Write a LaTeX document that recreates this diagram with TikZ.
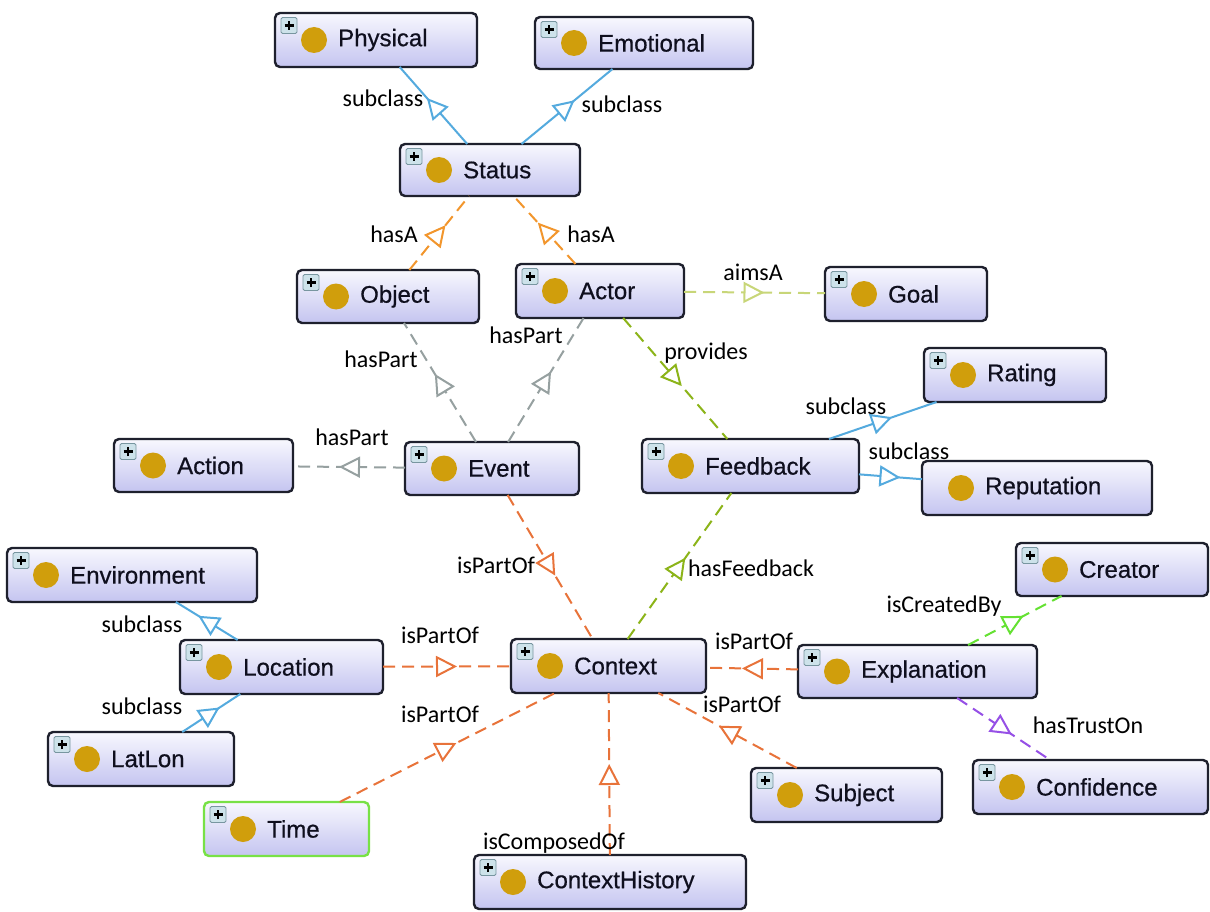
\documentclass[tikz,border=0pt]{standalone}
\usepackage{fontspec}
\setmainfont{Liberation Sans}
\newfontfamily\boxfont[FakeBold=0.6]{Liberation Sans}
\newfontfamily\lblfont{Carlito}
\usetikzlibrary{arrows.meta,decorations.markings}

\definecolor{boxtop}{RGB}{248,248,254}
\definecolor{boxbot}{RGB}{196,196,240}
\definecolor{boxline}{RGB}{30,32,45}
\definecolor{clsdot}{RGB}{208,158,12}
\definecolor{icofill}{RGB}{205,226,234}
\definecolor{icoline}{RGB}{120,150,160}
\definecolor{subcl}{RGB}{84,170,222}
\definecolor{hasa}{RGB}{242,150,45}
\definecolor{haspart}{RGB}{150,160,160}
\definecolor{aims}{RGB}{200,214,120}
\definecolor{oliveg}{RGB}{140,180,25}
\definecolor{partof}{RGB}{232,115,58}
\definecolor{created}{RGB}{100,225,50}
\definecolor{trust}{RGB}{150,80,230}
\definecolor{timeline}{RGB}{120,225,70}
\definecolor{txt}{RGB}{15,15,30}

\tikzset{
  clsbox/.style={draw=boxline, line width=2.4pt, rounded corners=5pt,
    top color=boxtop, bottom color=boxbot, inner sep=0pt, outer sep=0pt},
  clstext/.style={font=\boxfont\fontsize{24}{24}\selectfont, text=txt, inner sep=0pt, anchor=west},
  lbl/.style={font=\lblfont\fontsize{24}{24}\selectfont, text=black, inner sep=0pt, anchor=base},
  rel/.style={draw=#1, line width=2pt, postaction={decorate},
    decoration={markings, mark=at position 0.5 with {\pgfsetdash{}{0pt}%
      \arrow[xshift=10pt]{Triangle[open, fill=white, length=21pt, width=21pt, line width=2pt]}}}},
  solidrel/.style={rel=#1},
  dashrel/.style={rel=#1, dash pattern=on 12pt off 7pt},
}

% class box: [extra style]{name}{left}{top}{right}{bottom}{label}
\newcommand\owlclass[7][]{%
  \node[clsbox,#1, minimum width={#5-#3}, minimum height={#6-#4}] (#2) at ({(#3+#5)/2},{(#4+#6)/2}) {};
  \fill[clsdot] ([xshift=39pt]#2.west) circle (13pt);
  \node[clstext] (#2-name) at ([xshift=63pt]#2.west) {#7};
}
% expand icon in the upper left corner of a class box
\newcommand\plusicon[1]{%
  \path ([xshift=14pt,yshift=-12.5pt]#1.north west) coordinate (#1-ico);
  \draw[icoline, fill=icofill, line width=0.8pt, rounded corners=1.5pt]
    ([shift={(-8pt,-8pt)}]#1-ico) rectangle ([shift={(8pt,8pt)}]#1-ico);
  \draw[black, line width=2.2pt] ([xshift=-4.5pt]#1-ico) -- ([xshift=4.5pt]#1-ico)
    ([yshift=-4.5pt]#1-ico) -- ([yshift=4.5pt]#1-ico);
}

\begin{document}
\begin{tikzpicture}[x=1pt,y=-1pt]
\fill[white] (0,0) rectangle (1210,912);
\useasboundingbox (0,0) rectangle (1210,912);

% classes
\owlclass{Physical}{275}{13}{477}{67}{Physical}
\owlclass{Emotional}{535}{17}{753}{69}{Emotional}
\owlclass{Status}{400}{144}{580}{196}{Status}
\owlclass{Object}{297}{270}{479}{323}{Object}
\owlclass{Actor}{516}{264}{684}{318}{Actor}
\owlclass{Goal}{825}{267}{987}{321}{Goal}
\owlclass{Rating}{924}{348}{1106}{402}{Rating}
\owlclass{Action}{114}{439}{293}{492}{Action}
\owlclass{Event}{405}{442}{579}{495}{Event}
\owlclass{Feedback}{642}{439}{859}{493}{Feedback}
\owlclass{Reputation}{922}{461}{1152}{515}{Reputation}
\owlclass{Environment}{7}{548}{257}{602}{Environment}
\owlclass{Creator}{1016}{543}{1208}{596}{Creator}
\owlclass{Location}{180}{640}{383}{694}{Location}
\owlclass{Context}{511}{639}{706}{693}{Context}
\owlclass{Explanation}{798}{645}{1037}{698}{Explanation}
\owlclass{LatLon}{48}{732}{234}{786}{LatLon}
\owlclass{Subject}{751}{768}{942}{822}{Subject}
\owlclass{Confidence}{973}{760}{1208}{814}{Confidence}
\owlclass[draw=timeline]{Time}{204}{802}{369}{856}{Time}
\owlclass{ContextHistory}{474}{855}{746}{909}{ContextHistory}

\foreach \c in {Physical,Emotional,Status,Object,Actor,Goal,Rating,Action,Event,Feedback,
  Environment,Creator,Location,Context,Explanation,LatLon,Subject,Confidence,Time,ContextHistory}
  {\plusicon{\c}}

% relations
\draw[solidrel=subcl] (Status) -- (Physical);
\draw[solidrel=subcl] (Status) -- (Emotional);
\draw[dashrel=hasa] (Object) -- (Status);
\draw[dashrel=hasa] (Actor) -- (Status);
\draw[dashrel=aims] (Actor) -- (Goal);
\draw[dashrel=oliveg] (Actor) -- (Feedback);
\draw[dashrel=haspart] (Event) -- (Object);
\draw[dashrel=haspart] (Event) -- (Actor);
\draw[dashrel=haspart] (Event) -- (Action);
\draw[solidrel=subcl] (Feedback) -- (Rating);
\draw[solidrel=subcl] (Feedback) -- (Reputation);
\draw[dashrel=partof] (Event) -- (Context);
\draw[dashrel=oliveg] (Context) -- (Feedback);
\draw[dashrel=partof] (Location) -- (Context);
\draw[dashrel=partof] (Explanation) -- (Context);
\draw[dashrel=partof] (Time) -- (Context);
\draw[dashrel=partof] (Subject) -- (Context);
\draw[dashrel=partof] (ContextHistory) -- (Context);
\draw[solidrel=subcl] (Location) -- (Environment);
\draw[solidrel=subcl] (LatLon) -- (Location);
\draw[dashrel=created] (Explanation) -- (Creator);
\draw[dashrel=trust] (Explanation) -- (Confidence);

% relation labels
\node[lbl] (l1) at (383,107) {subclass};
\node[lbl] (l2) at (622,113) {subclass};
\node[lbl] (l3) at (394,243) {hasA};
\node[lbl] (l4) at (591,243) {hasA};
\node[lbl] (l5) at (753,280) {aimsA};
\node[lbl] (l6) at (381,367) {hasPart};
\node[lbl] (l7) at (526,343) {hasPart};
\node[lbl] (l8) at (352,445) {hasPart};
\node[lbl] (l9) at (706,359) {provides};
\node[lbl] (l10) at (846,414) {subclass};
\node[lbl] (l11) at (909,459) {subclass};
\node[lbl] (l12) at (496,573) {isPartOf};
\node[lbl] (l13) at (751,576) {hasFeedback};
\node[lbl] (l14) at (440,643) {isPartOf};
\node[lbl] (l15) at (754,649) {isPartOf};
\node[lbl] (l16) at (440,722) {isPartOf};
\node[lbl] (l17) at (742,712) {isPartOf};
\node[lbl] (l18) at (554,849) {isComposedOf};
\node[lbl] (l19) at (142,632) {subclass};
\node[lbl] (l20) at (142,714) {subclass};
\node[lbl] (l21) at (944,612) {isCreatedBy};
\node[lbl] (l22) at (1088,733) {hasTrustOn};
\end{tikzpicture}
\end{document}
